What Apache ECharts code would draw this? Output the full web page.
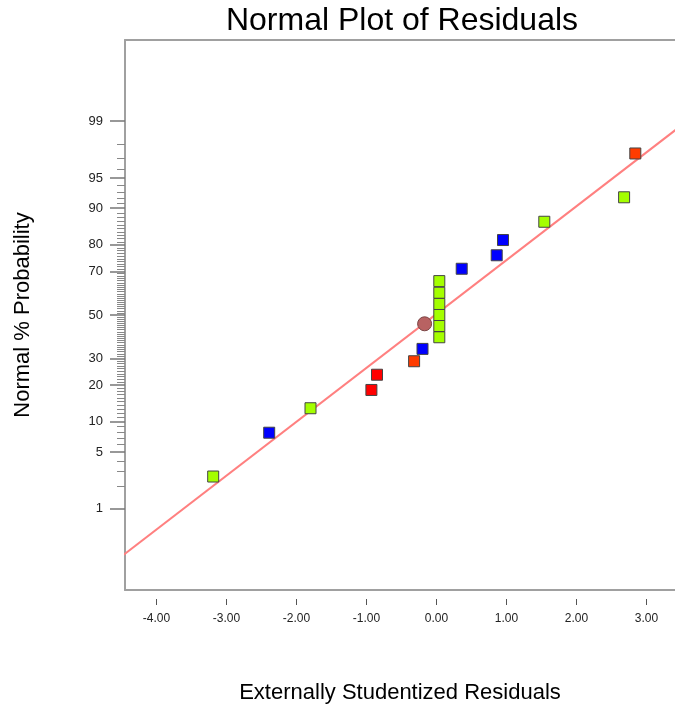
<!DOCTYPE html>
<html>
<head>
<meta charset="utf-8">
<script src="https://cdn.jsdelivr.net/npm/echarts@6/dist/echarts.min.js"></script>
<style>
html,body{margin:0;padding:0;background:#fff;}
#chart{width:675px;height:710px;}
</style>
</head>
<body>
<div id="chart"></div>
<script>
// ---- data ----
const residuals = [-3.19, -2.39, -1.80, -0.93, -0.85, -0.32, -0.20, 0.04, 0.04, 0.04, 0.04, 0.04, 0.04, 0.36, 0.86, 0.95, 1.54, 2.68, 2.84];
const probPct   = [2.63, 7.89, 13.16, 18.42, 23.68, 28.95, 34.21, 39.47, 44.74, 50.00, 55.26, 60.53, 65.79, 71.05, 76.32, 81.58, 86.84, 92.11, 97.37];
const pointColor = ['lime','blue','lime','red','red','orange','blue','lime','lime','lime','lime','lime','lime','blue','blue','blue','lime','lime','orange'];
const circleResidual = [-0.17];
const circlePct = [45.8];
const lineResidual = [-4.80, 4.76];
const linePct = [0.1, 99.9];
const yTickPct = [1, 5, 10, 20, 30, 50, 70, 80, 90, 95, 99];
const xTickVals = [-4, -3, -2, -1, 0, 1, 2, 3];

const palette = {lime:'#a4ff00', blue:'#0000ff', red:'#ff0000', orange:'#ff3c00'};

// inverse standard normal CDF (probit) for the probability axis
function probit(p){
  const a=[-3.969683028665376e+01,2.209460984245205e+02,-2.759285104469687e+02,1.383577518672690e+02,-3.066479806614716e+01,2.506628277459239e+00];
  const b=[-5.447609879822406e+01,1.615858368580409e+02,-1.556989798598866e+02,6.680131188771972e+01,-1.328068155288572e+01];
  const c=[-7.784894002430293e-03,-3.223964580411365e-01,-2.400758277161838e+00,-2.549671010229420e+00,4.374664141464968e+00,2.938163982698783e+00];
  const d=[7.784695709041462e-03,3.224671290700398e-01,2.445134137142996e+00,3.754408661907416e+00];
  const pl=0.02425, ph=1-pl;
  let q,r;
  if(p<pl){q=Math.sqrt(-2*Math.log(p));return (((((c[0]*q+c[1])*q+c[2])*q+c[3])*q+c[4])*q+c[5])/((((d[0]*q+d[1])*q+d[2])*q+d[3])*q+1);}
  if(p<=ph){q=p-0.5;r=q*q;return (((((a[0]*r+a[1])*r+a[2])*r+a[3])*r+a[4])*r+a[5])*q/(((((b[0]*r+b[1])*r+b[2])*r+b[3])*r+b[4])*r+1);}
  q=Math.sqrt(-2*Math.log(1-p));return -(((((c[0]*q+c[1])*q+c[2])*q+c[3])*q+c[4])*q+c[5])/((((d[0]*q+d[1])*q+d[2])*q+d[3])*q+1);
}
const z = pct => probit(pct/100);

const majorZ = yTickPct.map(z);
const minorZ = [];
for(let p=1;p<=99;p++){ if(yTickPct.indexOf(p)<0) minorZ.push(z(p)); }

const pts = residuals.map((r,i)=>({
  value:[r, z(probPct[i])],
  itemStyle:{color:palette[pointColor[i]]}
}));

const FONT = 'Liberation Sans, Arial, sans-serif';
const Y_MIN=-3.3, Y_MAX=3.3, X_MIN=-4.45, X_MAX=3.407;
const AXIS_GRAY = '#a0a0a0';

const chart = echarts.init(document.getElementById('chart'), null, {renderer:'canvas'});
chart.setOption({
  animation:false,
  backgroundColor:'#fff',
  title:{
    text:'Normal Plot of Residuals',
    left:397, top:0, textAlign:'center',
    textStyle:{fontFamily:FONT, fontSize:32, fontWeight:'normal', color:'#000'}
  },
  grid:{left:125, top:40, bottom:120, right:0, show:false},
  xAxis:[{
    type:'value', min:X_MIN, max:X_MAX,
    name:'Externally Studentized Residuals', nameLocation:'middle', nameGap:92,
    nameTextStyle:{fontFamily:FONT, fontSize:22, color:'#000'},
    axisLine:{show:true, onZero:false, lineStyle:{color:AXIS_GRAY, width:2}},
    axisTick:{show:false}, axisLabel:{show:false}, splitLine:{show:false}
  },{
    type:'value', min:X_MIN, max:X_MAX, position:'bottom', offset:9,
    axisLine:{show:false, onZero:false},
    axisTick:{show:true, length:6, customValues:xTickVals, lineStyle:{color:'#555', width:1}},
    axisLabel:{show:true, customValues:xTickVals, margin:14, formatter:v=>v.toFixed(2),
      fontFamily:FONT, fontSize:12, color:'#222'},
    splitLine:{show:false}
  },{
    type:'value', min:X_MIN, max:X_MAX, position:'top',
    axisLine:{show:true, onZero:false, lineStyle:{color:AXIS_GRAY, width:2}},
    axisTick:{show:false}, axisLabel:{show:false}, splitLine:{show:false}
  }],
  yAxis:[{
    type:'value', min:Y_MIN, max:Y_MAX,
    name:'Normal % Probability', nameLocation:'middle', nameGap:91, nameRotate:90,
    nameTextStyle:{fontFamily:FONT, fontSize:22, color:'#000'},
    axisLine:{show:true, onZero:false, lineStyle:{color:AXIS_GRAY, width:2}},
    axisTick:{show:true, length:15, customValues:majorZ, lineStyle:{color:'#777', width:1.5}},
    axisLabel:{show:true, customValues:majorZ, margin:22,
      formatter:v=>{let best=yTickPct[0],bd=1e9;yTickPct.forEach(p=>{const d=Math.abs(z(p)-v);if(d<bd){bd=d;best=p;}});return String(best);},
      fontFamily:FONT, fontSize:13, color:'#222'},
    splitLine:{show:false}
  },{
    type:'value', min:Y_MIN, max:Y_MAX, position:'left', offset:0,
    axisLine:{show:false, onZero:false},
    axisTick:{show:true, length:8, customValues:minorZ, lineStyle:{color:'#888', width:1}},
    axisLabel:{show:false}, splitLine:{show:false}
  }],
  series:[{
    type:'line', xAxisIndex:0, yAxisIndex:0,
    data:lineResidual.map((r,i)=>[r, z(linePct[i])]),
    symbol:'none', clip:true,
    lineStyle:{color:'#ff8080', width:2}, z:2
  },{
    type:'scatter', xAxisIndex:0, yAxisIndex:0,
    data:pts, symbol:'rect', symbolSize:11,
    itemStyle:{borderColor:'#444', borderWidth:1, opacity:1}, z:3
  },{
    type:'scatter', xAxisIndex:0, yAxisIndex:0,
    data:circleResidual.map((r,i)=>[r, z(circlePct[i])]),
    symbol:'circle', symbolSize:14,
    itemStyle:{color:'#b86262', borderColor:'#7a4444', borderWidth:1, opacity:1}, z:4
  }]
});
</script>
</body>
</html>
